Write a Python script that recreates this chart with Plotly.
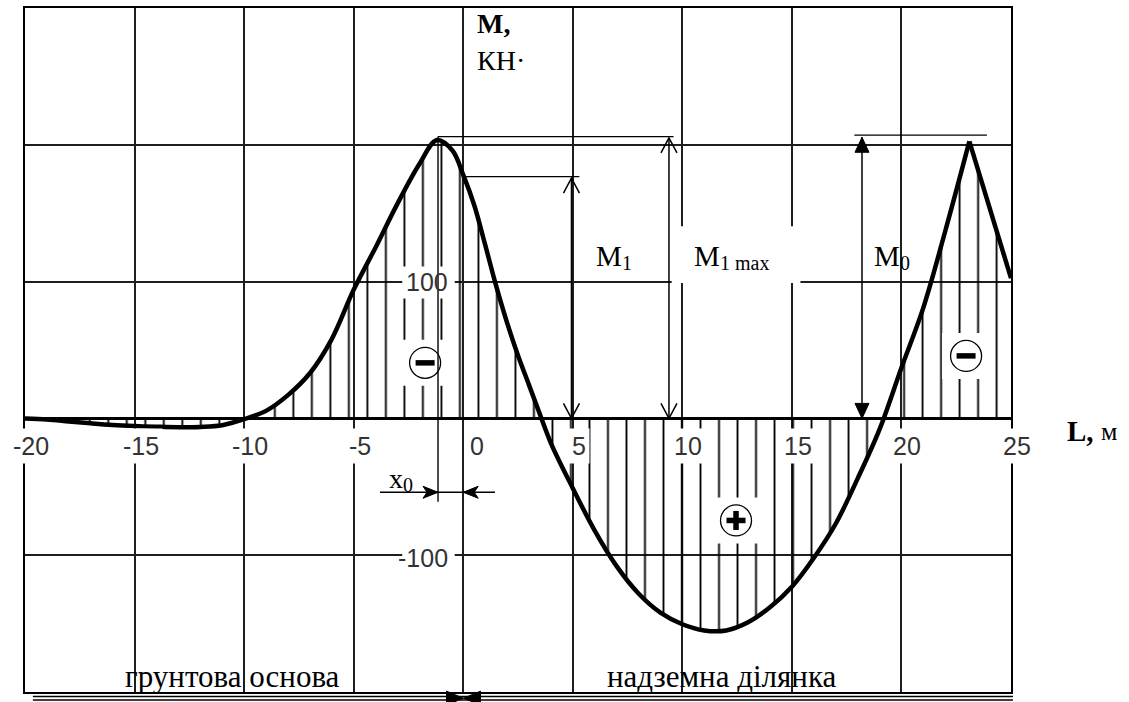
import plotly.graph_objects as go

# ---- data ----
x_smooth = [-20, -19, -18, -17, -16, -15, -14, -13, -12, -11, -10, -9, -8, -7, -6, -5, -4, -3, -2,
            -1.2, -0.5, 0, 0.5, 1, 1.5, 2, 2.5, 3, 3.5, 4, 5, 6, 7, 8, 9, 10, 11, 12, 13, 14, 15,
            16, 17, 18, 19, 20, 21, 22, 23.1]
m_smooth = [0, -0.8, -2.2, -3.6, -4.8, -5.6, -6.1, -6.4, -6.2, -5, -0.6, 5.5, 17, 33, 58, 94, 125, 157, 186,
            203.5, 196, 178, 156, 127, 97, 70, 46, 24.5, 3, -18, -51, -82, -108, -128, -142, -150.5, -155,
            -155, -149, -138, -123, -102, -77, -44, -8, 37, 81, 137, 202.5]
x_peak = [23.1, 24, 25]
m_peak = [202.5, 154, 102.5]

x_ticks = [-20, -15, -10, -5, 0, 5, 10, 15, 20, 25]
x_tick_labels = ["-20", "-15", "-10", "-5", "0", "5", "10", "15", "20", "25"]
y_ticks = [100, -100]
y_tick_labels = ["100", "-100"]

# dimension values
m1_x, m1_val = 4.94, 176.7
m1max_x, m1max_val = 9.39, 206
m0_x, m0_val = 18.2, 207
x0_pos = -1.15
x0_dim_y = -54

serif = "Liberation Serif, Times New Roman, serif"
tick_font = dict(family="Liberation Sans, Arial, sans-serif", size=25, color="#333")

hatch = dict(shape="|", size=18.507, solidity=0.1, fgcolor="black", fgopacity=1,
             bgcolor="rgba(0,0,0,0)")

fig = go.Figure()
fig.add_trace(go.Scatter(x=x_smooth, y=m_smooth, mode="lines",
                         line=dict(color="black", width=4.5, shape="spline", smoothing=1),
                         fill="tozeroy", fillcolor="rgba(0,0,0,0)", fillpattern=hatch,
                         showlegend=False, hoverinfo="skip"))
fig.add_trace(go.Scatter(x=x_peak, y=m_peak, mode="lines",
                         line=dict(color="black", width=4.5),
                         fill="tozeroy", fillcolor="rgba(0,0,0,0)", fillpattern=hatch,
                         showlegend=False, hoverinfo="skip"))

ln = dict(color="black", width=1.3)
shapes = []


def px_shape(kind, xa, ya, **kw):
    d = dict(type=kind, xsizemode="pixel", ysizemode="pixel", xanchor=xa, yanchor=ya, layer="above")
    d.update(kw)
    return d


# white box behind M1 max label
shapes.append(dict(type="rect", x0=9.515, x1=15.39, y0=98.9, y1=140.5, fillcolor="white",
                   line=dict(width=0), layer="above"))
# white boxes behind y labels
for v in y_ticks:
    shapes.append(px_shape("rect", 0, v, x0=-61, x1=-8.5, y0=-17 if v > 0 else -19,
                           y1=15 if v > 0 else 13, fillcolor="white", line=dict(width=0)))
# sign markers (circle with minus / plus)
signs = [(-1.74, 40.6, "-"), (22.95, 45.7, "-"), (12.45, -74.6, "+")]
for sx, sy, s in signs:
    shapes.append(px_shape("rect", sx, sy, x0=-24, x1=24, y0=-23, y1=23, fillcolor="white",
                           line=dict(width=0)))
    shapes.append(px_shape("circle", sx, sy, x0=-15.5, x1=15.5, y0=-15.5, y1=15.5,
                           line=dict(color="black", width=1.3)))
    shapes.append(px_shape("line", sx, sy, x0=-9.5, x1=9.5, y0=0, y1=0,
                           line=dict(color="black", width=5.5)))
    if s == "+":
        shapes.append(px_shape("line", sx, sy, x0=0, x1=0, y0=-9.5, y1=9.5,
                               line=dict(color="black", width=5.5)))
# extension lines
shapes.append(dict(type="line", x0=0.08, x1=5.3, y0=m1_val, y1=m1_val, line=ln, layer="above"))
shapes.append(dict(type="line", x0=x0_pos, x1=9.6, y0=m1max_val, y1=m1max_val, line=ln, layer="above"))
shapes.append(dict(type="line", x0=17.85, x1=23.9, y0=m0_val, y1=m0_val, line=ln, layer="above"))
# x0 vertical reference line and dimension line
shapes.append(dict(type="line", x0=x0_pos, x1=x0_pos, y0=-61, y1=m1max_val,
                   line=dict(color="black", width=1.4), layer="above"))
shapes.append(dict(type="line", x0=-3.8, x1=1.45, y0=x0_dim_y, y1=x0_dim_y, line=ln, layer="above"))

# dimension arrows: shafts + heads
aw = dict(color="black", width=1.5)
for xa, top in ((m1_x, m1_val - 1), (m1max_x, m1max_val - 1)):
    shapes.append(dict(type="line", x0=xa, x1=xa, y0=0, y1=top, line=aw, layer="above"))
    shapes.append(px_shape("path", xa, top, path="M-8,-15 L0,0 L8,-15", line=aw))
    shapes.append(px_shape("path", xa, 0, path="M-8,15 L0,0 L8,15", line=aw))
shapes.append(dict(type="line", x0=m0_x, x1=m0_x, y0=0, y1=m0_val - 1.5, line=aw, layer="above"))
shapes.append(px_shape("path", m0_x, m0_val - 1.5, path="M-7,-15 L0,0 L7,-15 Z",
                       fillcolor="black", line=dict(color="black", width=1)))
shapes.append(px_shape("path", m0_x, 0, path="M-7,15 L0,0 L7,15 Z",
                       fillcolor="black", line=dict(color="black", width=1)))
shapes.append(px_shape("path", x0_pos, x0_dim_y, path="M-15,-6 L0,0 L-15,6 L-11,0 Z",
                       fillcolor="black", line=dict(color="black", width=1)))
shapes.append(px_shape("path", 0, x0_dim_y, path="M15,-6 L0,0 L15,6 L11,0 Z",
                       fillcolor="black", line=dict(color="black", width=1)))

# double line under the chart with the two meeting arrows
for yp in (-0.0066, -0.0117):
    shapes.append(dict(type="line", xref="paper", yref="paper", x0=0.008, x1=1.002, y0=yp, y1=yp,
                       line=dict(color="black", width=1.4), layer="above"))
xa0 = (463.5 - 25) / 986
for p in ("M-17,-7 L0,0 L-17,7 Z", "M17,-7 L0,0 L17,7 Z"):
    shapes.append(dict(type="path", xref="paper", yref="paper", xsizemode="pixel", ysizemode="pixel",
                       xanchor=xa0, yanchor=-0.009, path=p, fillcolor="black",
                       line=dict(color="black", width=1), layer="above"))

ann = []
for v, t in zip(x_ticks, x_tick_labels):
    ann.append(dict(x=v, y=-20, text=t, showarrow=False, font=tick_font, bgcolor="white",
                    borderpad=3, xshift=14 if v == 0 else 6))
for v, t in zip(y_ticks, y_tick_labels):
    ann.append(dict(x=0, y=v, text=t, showarrow=False, font=tick_font,
                    xanchor="right", xshift=-13, yshift=0 if v > 0 else -3))

txt = dict(family=serif, size=29, color="black")
sub = dict(family=serif, size=20, color="black")
ann += [
    dict(x=0.54, y=288.5, xanchor="left", text="<b>M,</b>", showarrow=False,
         font=dict(family=serif, size=28, color="black")),
    dict(x=0.54, y=261.7, xanchor="left", text="КН·", showarrow=False,
         font=dict(family=serif, size=28, color="black")),
    dict(xref="paper", x=1.0548, y=-9, xanchor="left", text="<b>L,</b>", showarrow=False, font=txt),
    dict(xref="paper", x=1.0548, y=-9, xanchor="left", xshift=34, yshift=-1, text="м",
         showarrow=False, font=dict(family=serif, size=26, color="black")),
    dict(x=-10.53, y=-189, text="грунтова основа", showarrow=False,
         font=dict(family=serif, size=31, color="black")),
    dict(x=11.81, y=-189, text="надземна ділянка", showarrow=False,
         font=dict(family=serif, size=31, color="black")),
]
# symbol labels with subscripts drawn as separate small texts
for lx, ly, main, s, size, w in ((5.97, 118.6, "M", "1", 29, 26),
                                 (10.42, 118.6, "M", "1 max", 29, 26),
                                 (18.64, 118.6, "M", "0", 29, 26),
                                 (-3.48, -43.6, "x", "0", 28, 14)):
    ann.append(dict(x=lx, y=ly, xanchor="left", text=main, showarrow=False,
                    font=dict(family=serif, size=size, color="black")))
    ann.append(dict(x=lx, y=ly, xanchor="left", xshift=w, yshift=-7, text=s, showarrow=False,
                    font=sub))

axis_common = dict(showgrid=True, gridcolor="#1e1e1e", gridwidth=1.6, showline=True, mirror=True,
                   linecolor="black", linewidth=2, ticks="", showticklabels=False)
fig.update_layout(
    width=1129, height=702,
    margin=dict(l=25, r=118, t=6, b=10),
    paper_bgcolor="white", plot_bgcolor="white",
    xaxis=dict(range=[-20, 25], dtick=5, tick0=0, zeroline=False, **axis_common),
    yaxis=dict(range=[-200, 300], dtick=100, tick0=0, zeroline=True, zerolinecolor="black",
               zerolinewidth=3, **axis_common),
    shapes=shapes, annotations=ann, showlegend=False,
)
fig.write_html("out.html", config={"displayModeBar": False},
               post_script="document.body.style.margin='0px';document.body.style.overflow='hidden';")
